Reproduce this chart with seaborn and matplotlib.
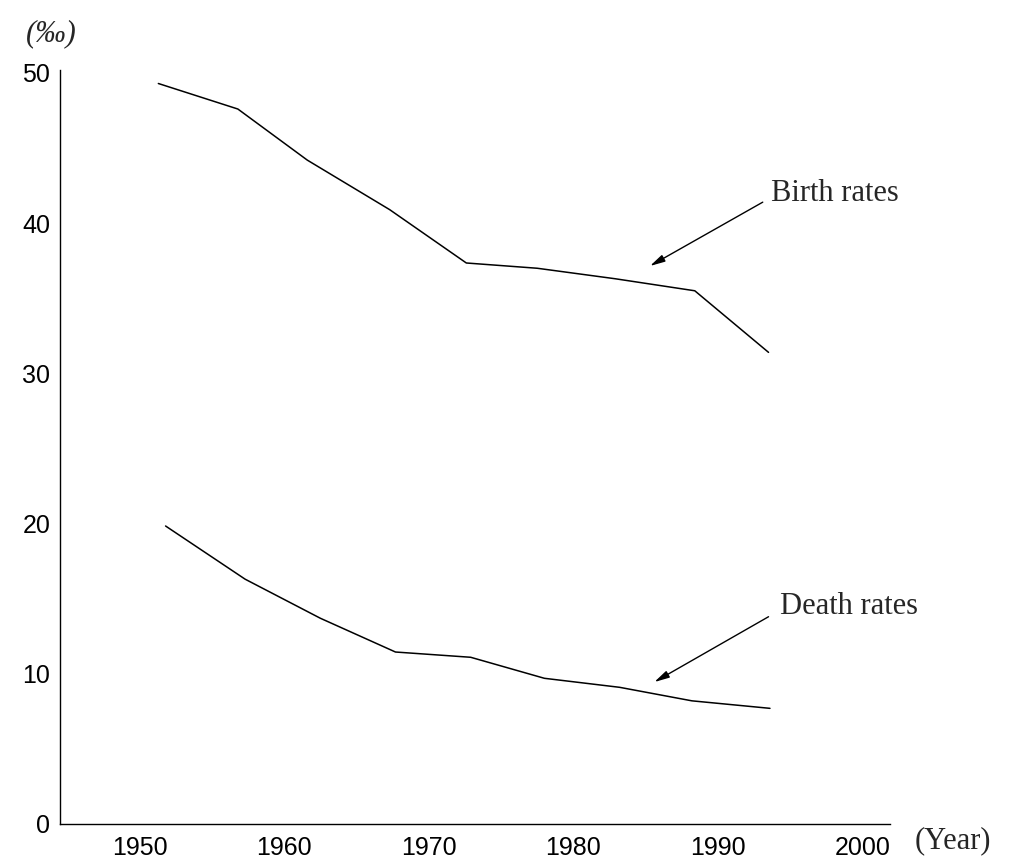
import matplotlib
matplotlib.use("Agg")
import matplotlib.pyplot as plt
import seaborn as sns
import pandas as pd

# Data
birth_years = [1951.3, 1956.8, 1961.6, 1967.3, 1972.6, 1977.5, 1982.9, 1988.4, 1993.5]
birth_rates = [49.3, 47.6, 44.2, 40.9, 37.35, 37.0, 36.3, 35.5, 31.4]
death_years = [1951.8, 1957.3, 1962.5, 1967.7, 1972.9, 1978.0, 1983.2, 1988.2, 1993.6]
death_rates = [19.84, 16.3, 13.7, 11.45, 11.1, 9.7, 9.1, 8.2, 7.7]
x_ticks = [1950, 1960, 1970, 1980, 1990, 2000]
y_ticks = [0, 10, 20, 30, 40, 50]

sns.set_style("white")
plt.rcParams["font.family"] = ["Liberation Sans", "DejaVu Sans"]

fig = plt.figure(figsize=(10.19, 8.65), dpi=100)
ax = fig.add_axes([0.0589, 0.0474, 0.8145, 0.8717])

df_b = pd.DataFrame({"Year": birth_years, "Rate": birth_rates})
df_d = pd.DataFrame({"Year": death_years, "Rate": death_rates})
sns.lineplot(data=df_b, x="Year", y="Rate", ax=ax, color="black", lw=1.1)
sns.lineplot(data=df_d, x="Year", y="Rate", ax=ax, color="black", lw=1.1)

ax.set_xlim(1944.5, 2001.9)
ax.set_ylim(0, 50.2)
ax.set_xticks(x_ticks)
ax.set_yticks(y_ticks)
ax.set_xticklabels([str(v) for v in x_ticks])
ax.set_yticklabels([str(v) for v in y_ticks])
ax.tick_params(axis="both", length=0, labelsize=18, colors="black")
ax.tick_params(axis="x", pad=9)
ax.tick_params(axis="y", pad=7)
ax.set_xlabel("")
ax.set_ylabel("")
for s in ["top", "right"]:
    ax.spines[s].set_visible(False)
for s in ["left", "bottom"]:
    ax.spines[s].set_color("black")
    ax.spines[s].set_linewidth(1.0)

serif = ["Liberation Serif", "DejaVu Serif"]
fig.text(0.025, 0.978, "(\u2030)", fontsize=22, family=serif, style="italic",
         va="top", ha="left")
fig.text(0.898, 0.028, "(Year)", fontsize=22, family=serif, va="center", ha="left")

arrow = dict(arrowstyle="-|>,head_width=0.22,head_length=0.9", color="black", lw=1.0,
             shrinkA=0, shrinkB=0)
ax.annotate("", xy=(1985.3, 37.15), xytext=(1993.1, 41.4), arrowprops=arrow)
ax.text(1993.7, 42.0, "Birth rates", fontsize=22, family=serif, va="center", ha="left")
ax.annotate("", xy=(1985.6, 9.45), xytext=(1993.5, 13.8), arrowprops=arrow)
ax.text(1994.3, 14.45, "Death rates", fontsize=22, family=serif, va="center", ha="left")

fig.savefig("out.png", dpi=100)
